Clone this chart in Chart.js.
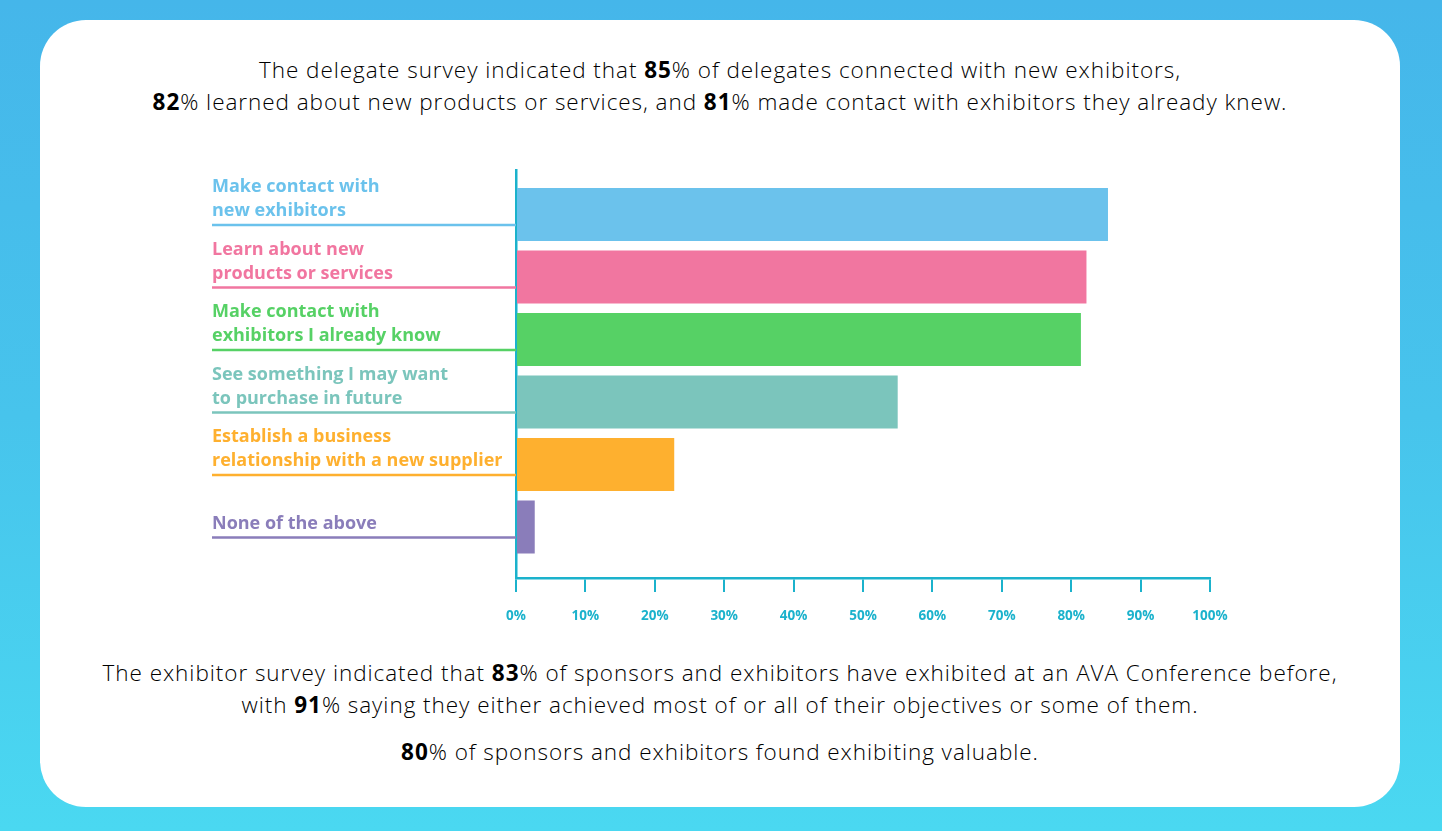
<!DOCTYPE html>
<html>
<head>
<meta charset="utf-8">
<script src="https://cdn.jsdelivr.net/npm/chart.js@4/dist/chart.umd.min.js"></script>
<style>
  html, body { margin: 0; padding: 0; }
  body {
    width: 1442px; height: 831px; overflow: hidden; position: relative;
    background: linear-gradient(180deg, #45b6ea 0%, #47c4ec 50%, #4ad8f1 100%);
    font-family: "Open Sans", Roboto, sans-serif;
  }
  .card {
    position: absolute; left: 40px; top: 20px; width: 1360px; height: 787px;
    background: #fff; border-radius: 46px;
  }
  .txt {
    position: absolute; left: 40px; width: 1360px; text-align: center;
    font-size: 22.5px; line-height: 32px; color: #000; font-weight: 300;
    letter-spacing: 0.95px;
  }
  .txt b { font-weight: 700; }
  #chart { position: absolute; left: 0; top: 0; }
</style>
</head>
<body>
<div class="card"></div>
<div class="txt" style="top:54px">The delegate survey indicated that <b>85</b>% of delegates connected with new exhibitors,<br><b>82</b>% learned about new products or services, and <b>81</b>% made contact with exhibitors they already knew.</div>
<div class="txt" style="top:657px">The exhibitor survey indicated that <b>83</b>% of sponsors and exhibitors have exhibited at an AVA Conference before,<br>with <b>91</b>% saying they either achieved most of or all of their objectives or some of them.</div>
<div class="txt" style="top:736px"><b>80</b>% of sponsors and exhibitors found exhibiting valuable.</div>
<canvas id="chart" width="1442" height="831"></canvas>
<script>
// 카테고리 / 값 / 색상
var categories = [
  ['Make contact with', 'new exhibitors'],
  ['Learn about new', 'products or services'],
  ['Make contact with', 'exhibitors I already know'],
  ['See something I may want', 'to purchase in future'],
  ['Establish a business', 'relationship with a new supplier'],
  ['None of the above']
];
var values = [85.3, 82.2, 81.4, 55.0, 22.8, 2.7];
var barColors = ['#6bc2ec', '#f176a0', '#56d165', '#7bc5bc', '#feb02f', '#8a7dba'];
var tickValues = [0, 10, 20, 30, 40, 50, 60, 70, 80, 90, 100];

var axisColor = '#1bb2cc';
var labelFont = 'bold 18px "Open Sans", Roboto, sans-serif';

// 왼쪽 라벨 + 밑줄
var labelPlugin = {
  id: 'rowLabels',
  afterDraw: function(chart) {
    var ctx = chart.ctx;
    var yScale = chart.scales.y;
    var left = chart.chartArea.left - 304;
    ctx.save();
    categories.forEach(function(lines, i) {
      var lineY = yScale.getPixelForValue(i) + 10.5;
      ctx.strokeStyle = barColors[i];
      ctx.lineWidth = 2.5;
      ctx.beginPath();
      ctx.moveTo(left, lineY);
      ctx.lineTo(chart.chartArea.left, lineY);
      ctx.stroke();

      ctx.fillStyle = barColors[i];
      ctx.font = labelFont;
      ctx.textAlign = 'left';
      ctx.textBaseline = 'middle';
      lines.forEach(function(t, k) {
        var y = lineY - 14 - (lines.length - 1 - k) * 24;
        ctx.fillText(t, left, y);
      });
    });
    ctx.restore();
  }
};

var ctx = document.getElementById('chart').getContext('2d');
var chart = new Chart(ctx, {
  type: 'bar',
  data: {
    datasets: [{
      data: values.map(function(v, i) { return { x: v, y: i }; }),
      backgroundColor: barColors,
      borderWidth: 0,
      categoryPercentage: 1,
      barPercentage: 0.85
    }]
  },
  options: {
    indexAxis: 'y',
    responsive: false,
    animation: false,
    layout: { padding: { left: 516, right: 232, top: 170, bottom: 203 } },
    plugins: { legend: { display: false }, tooltip: { enabled: false } },
    scales: {
      x: {
        type: 'linear',
        min: 0,
        max: 100,
        afterFit: function(scale) { scale.height = 50; },
        afterBuildTicks: function(scale) {
          scale.ticks = tickValues.map(function(v) { return { value: v }; });
        },
        ticks: {
          color: axisColor,
          padding: 16,
          font: { family: '"Open Sans", Roboto, sans-serif', size: 13.5, weight: 'bold' },
          callback: function(v) { return v + '%'; }
        },
        grid: { drawOnChartArea: false, drawTicks: true, tickLength: 14, color: axisColor, lineWidth: 2 },
        border: { display: true, color: axisColor, width: 2.5 }
      },
      y: {
        type: 'linear',
        reverse: true,
        offset: false,
        bounds: 'data',
        min: -0.712,
        max: 5.816,
        afterDataLimits: function(scale) { scale.min = -0.712; scale.max = 5.816; },
        afterBuildTicks: function(scale) {
          scale.ticks = categories.map(function(c, i) { return { value: i }; });
        },
        afterFit: function(scale) { scale.width = 0; },
        ticks: { display: false },
        grid: { display: false, offset: false },
        border: { display: true, color: axisColor, width: 2.5 }
      }
    }
  },
  plugins: [labelPlugin]
});
</script>
</body>
</html>
